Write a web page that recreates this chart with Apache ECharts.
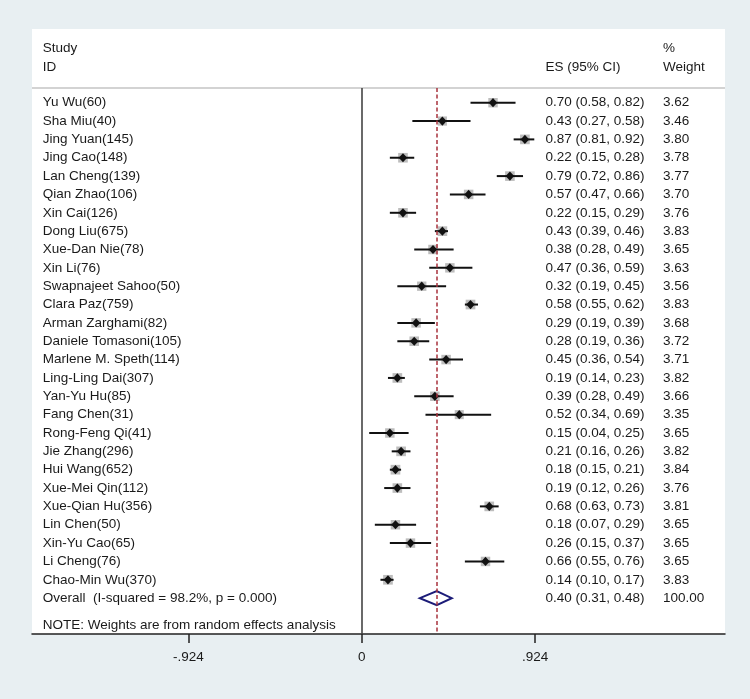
<!DOCTYPE html>
<html>
<head>
<meta charset="utf-8">
<script src="https://cdn.jsdelivr.net/npm/echarts@6/dist/echarts.min.js"></script>
<style>
  html, body { margin: 0; padding: 0; background: #e8eff2; }
  #chart { width: 750px; height: 699px; }
</style>
</head>
<body>
<div id="chart"></div>
<script>
// ---------- data ----------
const studies = ["Yu Wu(60)", "Sha Miu(40)", "Jing Yuan(145)", "Jing Cao(148)", "Lan Cheng(139)",
  "Qian Zhao(106)", "Xin Cai(126)", "Dong Liu(675)", "Xue-Dan Nie(78)", "Xin Li(76)",
  "Swapnajeet Sahoo(50)", "Clara Paz(759)", "Arman Zarghami(82)", "Daniele Tomasoni(105)",
  "Marlene M. Speth(114)", "Ling-Ling Dai(307)", "Yan-Yu Hu(85)", "Fang Chen(31)",
  "Rong-Feng Qi(41)", "Jie Zhang(296)", "Hui Wang(652)", "Xue-Mei Qin(112)", "Xue-Qian Hu(356)",
  "Lin Chen(50)", "Xin-Yu Cao(65)", "Li Cheng(76)", "Chao-Min Wu(370)"];
const es   = [0.70,0.43,0.87,0.22,0.79,0.57,0.22,0.43,0.38,0.47,0.32,0.58,0.29,0.28,0.45,0.19,0.39,0.52,0.15,0.21,0.18,0.19,0.68,0.18,0.26,0.66,0.14];
const ciLo = [0.58,0.27,0.81,0.15,0.72,0.47,0.15,0.39,0.28,0.36,0.19,0.55,0.19,0.19,0.36,0.14,0.28,0.34,0.04,0.16,0.15,0.12,0.63,0.07,0.15,0.55,0.10];
const ciHi = [0.82,0.58,0.92,0.28,0.86,0.66,0.29,0.46,0.49,0.59,0.45,0.62,0.39,0.36,0.54,0.23,0.49,0.69,0.25,0.26,0.21,0.26,0.73,0.29,0.37,0.76,0.17];
const weights = ["3.62","3.46","3.80","3.78","3.77","3.70","3.76","3.83","3.65","3.63","3.56","3.83","3.68","3.72","3.71","3.82","3.66","3.35","3.65","3.82","3.84","3.76","3.81","3.65","3.65","3.65","3.83"];
const overall = { label: "Overall  (I-squared = 98.2%, p = 0.000)", es: 0.40, lo: 0.31, hi: 0.48, weight: "100.00" };
const note = "NOTE: Weights are from random effects analysis";
const tickValues = [-0.924, 0, 0.924];
const tickLabels = ["-.924", "0", ".924"];
const headers = { study: "Study", id: "ID", es: "ES (95% CI)", pct: "%", weight: "Weight" };

// ---------- layout ----------
const FONT = "'Liberation Sans', Arial, sans-serif";
const FS = 13.5;
const TXT = '#1a1a1a';
const X_MIN = -1.7575, X_MAX = 1.9366;
const Y_MIN = -4.016, Y_MAX = 28.954;
const COL_STUDY = -1.700, COL_ES = 0.980, COL_W = 1.606;
const Y_HEAD1 = -2.98, Y_HEAD2 = -1.95, Y_RULE = -0.80, Y_NOTE = 28.5;
const nS = studies.length;

function fmt(v){ return v.toFixed(2); }

const rows = studies.map((s, i) => [es[i], i, ciLo[i], ciHi[i], parseFloat(weights[i])]);

function fmtES(e, l, h){ return fmt(e) + " (" + fmt(l) + ", " + fmt(h) + ")"; }

const textStyle = (x, y, t) => ({ type: 'text', x: x, y: y, style: { text: t, fill: TXT, font: FS + 'px ' + FONT, textAlign: 'left', textVerticalAlign: 'middle' }, silent: true });

const chart = echarts.init(document.getElementById('chart'), null, { renderer: 'canvas' });
chart.setOption({
  backgroundColor: '#e8eff2',
  animation: false,
  grid: { left: 32, right: 25, top: 29, bottom: 65, show: true, backgroundColor: '#ffffff', borderWidth: 0 },
  xAxis: {
    type: 'value', min: X_MIN, max: X_MAX,
    splitLine: { show: false },
    axisLine: { show: true, onZero: false, lineStyle: { color: '#222', width: 1.5 } },
    axisTick: { show: true, customValues: tickValues, length: 9, lineStyle: { color: '#222', width: 1.5 } },
    axisLabel: { show: true, customValues: tickValues, margin: 16, color: TXT, fontSize: FS, fontFamily: FONT,
      formatter: function (v) { const k = tickValues.findIndex(t => Math.abs(t - v) < 1e-6); return k >= 0 ? tickLabels[k] : ''; } }
  },
  yAxis: { type: 'value', inverse: true, min: Y_MIN, max: Y_MAX, show: false, splitLine: { show: false } },
  series: [
    {
      type: 'custom',
      name: 'studies',
      silent: true,
      data: rows,
      encode: { x: 0, y: 1 },
      clip: false,
      renderItem: function (params, api) {
        const e = api.value(0), i = api.value(1), lo = api.value(2), hi = api.value(3), w = api.value(4);
        const c = api.coord([e, i]);
        const pl = api.coord([lo, i]);
        const ph = api.coord([hi, i]);
        const side = 4.95 * Math.sqrt(w);
        const dx = 4.2, dy = 4.6;
        const ps = api.coord([COL_STUDY, i]);
        const pe = api.coord([COL_ES, i]);
        const pw = api.coord([COL_W, i]);
        return {
          type: 'group',
          children: [
            { type: 'rect', shape: { x: c[0] - side / 2, y: c[1] - side / 2, width: side, height: side }, style: { fill: '#bdbdbd' } },
            { type: 'line', shape: { x1: pl[0], y1: c[1], x2: ph[0], y2: c[1] }, style: { stroke: '#111', lineWidth: 2 } },
            { type: 'polygon', shape: { points: [[c[0] - dx, c[1]], [c[0], c[1] - dy], [c[0] + dx, c[1]], [c[0], c[1] + dy]] }, style: { fill: '#111' } },
            textStyle(ps[0], ps[1], studies[params.dataIndex]),
            textStyle(pe[0], pe[1], fmtES(es[params.dataIndex], ciLo[params.dataIndex], ciHi[params.dataIndex])),
            textStyle(pw[0], pw[1], weights[params.dataIndex])
          ]
        };
      },
      markLine: {
        silent: true, symbol: 'none', animation: false, label: { show: false },
        data: [
          { yAxis: Y_RULE, lineStyle: { color: '#c4c4c4', type: 'solid', width: 1.5 } },
          [{ coord: [0, Y_RULE], lineStyle: { color: '#444', type: 'solid', width: 1.6 } }, { coord: [0, Y_MAX] }],
          [{ coord: [overall.es, Y_RULE], lineStyle: { color: '#a8323c', type: [4, 2.5], width: 1.5 } }, { coord: [overall.es, Y_MAX] }]
        ]
      }
    },
    {
      type: 'custom',
      name: 'overall',
      silent: true,
      data: [[overall.es, nS, overall.lo, overall.hi]],
      encode: { x: 0, y: 1 },
      clip: false,
      z: 3,
      renderItem: function (params, api) {
        const e = api.value(0), i = api.value(1), lo = api.value(2), hi = api.value(3);
        const c = api.coord([e, i]);
        const pl = api.coord([lo, i]);
        const ph = api.coord([hi, i]);
        const dy = 7;
        const ps = api.coord([COL_STUDY, i]);
        const pe = api.coord([COL_ES, i]);
        const pw = api.coord([COL_W, i]);
        const pn = api.coord([COL_STUDY, Y_NOTE]);
        const h1 = api.coord([COL_STUDY, Y_HEAD1]);
        const h2 = api.coord([COL_STUDY, Y_HEAD2]);
        const he = api.coord([COL_ES, Y_HEAD2]);
        const hp1 = api.coord([COL_W, Y_HEAD1]);
        const hp2 = api.coord([COL_W, Y_HEAD2]);
        return {
          type: 'group',
          children: [
            { type: 'polygon', shape: { points: [[pl[0], c[1]], [c[0], c[1] - dy], [ph[0], c[1]], [c[0], c[1] + dy]] }, style: { fill: '#ffffff', stroke: '#1c1c78', lineWidth: 2 } },
            textStyle(ps[0], ps[1], overall.label),
            textStyle(pe[0], pe[1], fmtES(overall.es, overall.lo, overall.hi)),
            textStyle(pw[0], pw[1], overall.weight),
            textStyle(pn[0], pn[1], note),
            textStyle(h1[0], h1[1], headers.study),
            textStyle(h2[0], h2[1], headers.id),
            textStyle(he[0], he[1], headers.es),
            textStyle(hp1[0], hp1[1], headers.pct),
            textStyle(hp2[0], hp2[1], headers.weight)
          ]
        };
      }
    }
  ]
});
</script>
</body>
</html>
